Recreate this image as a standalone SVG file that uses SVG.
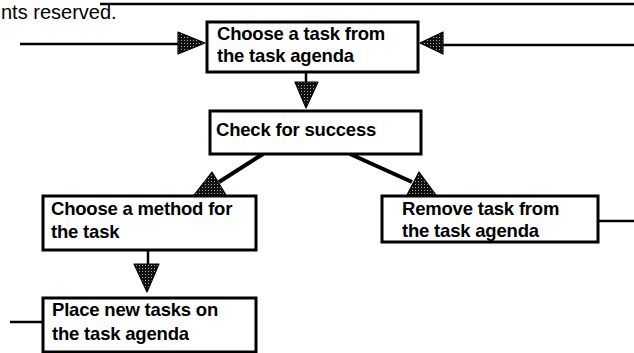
<svg xmlns="http://www.w3.org/2000/svg" width="634" height="353" viewBox="0 0 634 353">
<defs>
<pattern id="stip" width="3" height="3" patternUnits="userSpaceOnUse"><rect width="3" height="3" fill="#111"/><rect x="1" y="1" width="1" height="1" fill="#aaa"/></pattern>
<style>
.box{fill:#fff;stroke:#000;stroke-width:3}
.t{font-family:"Liberation Sans",Arial,sans-serif;font-weight:bold;font-size:18.5px;fill:#000;letter-spacing:-0.2px}
.ln{stroke:#000;stroke-width:2.5;fill:none}
.thick{stroke:#000;stroke-width:4;fill:none}
.ah{fill:url(#stip);stroke:#000;stroke-width:1.2;stroke-linejoin:round}
.note{font-family:"Liberation Sans",Arial,sans-serif;font-size:20px;fill:#000}
</style>
</defs>
<rect width="634" height="353" fill="#fff"/>
<text class="note" x="1" y="19">nts reserved.</text>
<line class="ln" x1="100" y1="4" x2="634" y2="4"/>
<g id="connectors">
<line class="ln" x1="20" y1="44" x2="180" y2="44"/>
<polygon class="ah" points="178,32 205,43 178,54"/>
<line class="ln" x1="440" y1="45" x2="634" y2="45"/>
<polygon class="ah" points="443,32 420,43 443,54"/>
<line class="ln" x1="306" y1="72" x2="306" y2="84"/>
<polygon class="ah" points="295,82 318,82 306,108"/>
<line class="thick" x1="263" y1="154" x2="219" y2="182"/>
<polygon class="ah" points="212,172 226,195 194,195"/>
<line class="thick" x1="350" y1="154" x2="412" y2="182"/>
<polygon class="ah" points="419,172 436,195 407,195"/>
<line class="ln" x1="598" y1="221" x2="634" y2="221"/>
<line class="ln" x1="148" y1="250" x2="148" y2="265"/>
<polygon class="ah" points="134,264 159,264 147,292"/>
<line class="ln" x1="10" y1="322" x2="44" y2="322"/>
</g>
<g id="n1"><rect class="box" x="207" y="22" width="211" height="50"/><text class="t" x="217" y="40">Choose a task from</text><text class="t" x="217" y="62">the task agenda</text></g>
<g id="n2"><rect class="box" x="210" y="111" width="211" height="43"/><text class="t" x="216" y="136">Check for success</text></g>
<g id="n3"><rect class="box" x="43" y="196" width="213" height="54"/><text class="t" x="51" y="215">Choose a method for</text><text class="t" x="51" y="238">the task</text></g>
<g id="n4"><rect class="box" x="382" y="196" width="216" height="46"/><text class="t" x="402" y="215">Remove task from</text><text class="t" x="402" y="237">the task agenda</text></g>
<g id="n5"><rect class="box" x="43" y="298" width="213" height="54"/><text class="t" x="52" y="316">Place new tasks on</text><text class="t" x="52" y="340">the task agenda</text></g>
</svg>
